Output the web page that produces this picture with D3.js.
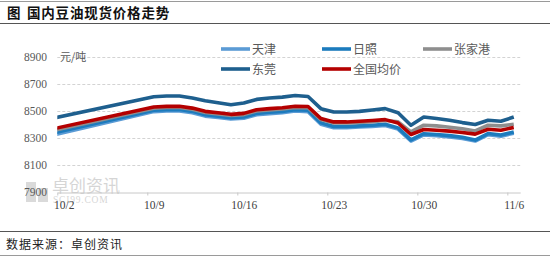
<!DOCTYPE html>
<html>
<head>
<meta charset="utf-8">
<script src="https://cdn.jsdelivr.net/npm/d3@7"></script>
<style>
body { margin: 0; background: #fff; }
svg { display: block; font-family: "Noto Sans CJK SC", sans-serif; }
.num { font-family: "Liberation Serif", serif; }
</style>
</head>
<body>
<div class="container"></div>
<script>
var width = 550;
var height = 259;

// 9/28 is the last quote before the holiday; the line is clipped at the 10/2 edge
var days = ['9/28','10/9','10/10','10/11','10/12','10/13','10/14','10/15','10/16','10/17',
  '10/18','10/19','10/20','10/21','10/22','10/23','10/24','10/25','10/26','10/27',
  '10/28','10/29','10/30','10/31','11/1','11/2','11/3','11/4','11/5','11/6'];

var tianjin = [8252,8495,8500,8500,8487,8462,8452,8440,8446,8472,8480,8487,8499,8495,8402,
  8376,8376,8381,8386,8393,8366,8278,8323,8317,8309,8297,8278,8325,8314,8336];
var rizhao = [8268,8505,8510,8510,8497,8472,8462,8450,8456,8482,8490,8497,8509,8505,8412,
  8385,8385,8390,8395,8402,8375,8287,8332,8326,8318,8306,8285,8333,8322,8345];
var zhangjiagang = [8290,8520,8525,8525,8512,8488,8478,8466,8473,8500,8508,8515,8525,8524,8436,
  8411,8411,8416,8421,8430,8420,8345,8395,8390,8380,8368,8352,8395,8390,8402];
var dongguan = [8382,8605,8610,8610,8595,8575,8561,8546,8558,8585,8595,8602,8614,8607,8517,
  8492,8492,8497,8507,8517,8487,8395,8455,8444,8431,8414,8400,8431,8424,8455];
var national = [8303,8529,8534,8534,8521,8497,8487,8475,8482,8509,8517,8524,8534,8533,8444,
  8419,8419,8424,8429,8436,8411,8326,8363,8358,8351,8341,8329,8365,8358,8378];

var seriesNames = ['天津','日照','张家港','东莞','全国均价'];
var seriesColors = ['#5b9bd5','#1c7bbd','#8e8e8e','#1e5f8e','#b40000'];
var seriesValues = [tianjin, rizhao, zhangjiagang, dongguan, national];

var yTicks = [7900, 8100, 8300, 8500, 8700, 8900];
var xTickDays = ['10/2','10/9','10/16','10/23','10/30','11/6'];

var toDate = function(s, hour) {
  var p = s.split('/');
  return new Date(2023, +p[0] - 1, +p[1], hour || 0);
};

var plot = {left: 57.3, right: 520.2, top: 56.7, bottom: 192.3};

var svg = d3.select('.container').append('svg')
  .attr('width', width)
  .attr('height', height);

// title band
svg.append('line').attr('x1', 0).attr('x2', width).attr('y1', 1.5).attr('y2', 1.5)
  .attr('stroke', '#9a9a9a').attr('stroke-width', 1);
svg.append('line').attr('x1', 0).attr('x2', width).attr('y1', 23.5).attr('y2', 23.5)
  .attr('stroke', '#555').attr('stroke-width', 1);
svg.append('text').attr('x', 7).attr('y', 18)
  .attr('font-size', 13.5).attr('font-weight', 'bold').attr('fill', '#111')
  .text('图');
svg.append('text').attr('x', 27).attr('y', 18)
  .attr('font-size', 13.5).attr('font-weight', 'bold').attr('fill', '#111')
  .attr('letter-spacing', 0.8)
  .text('国内豆油现货价格走势');

// footer
svg.append('line').attr('x1', 0).attr('x2', width).attr('y1', 231.5).attr('y2', 231.5)
  .attr('stroke', '#555').attr('stroke-width', 1);
svg.append('line').attr('x1', 0).attr('x2', width).attr('y1', 255.5).attr('y2', 255.5)
  .attr('stroke', '#9a9a9a').attr('stroke-width', 1);
svg.append('text').attr('x', 6).attr('y', 248.5)
  .attr('font-size', 12).attr('fill', '#222').attr('letter-spacing', 1)
  .text('数据来源：卓创资讯');

var x = d3.scaleTime()
  .domain([toDate('10/2'), toDate('11/7')])
  .range([plot.left, plot.right]);
var y = d3.scaleLinear()
  .domain([7900, 8900])
  .range([plot.bottom, plot.top]);

// watermark
var wm = svg.append('g').attr('opacity', 0.3);
wm.append('rect').attr('x', 26).attr('y', 182).attr('width', 10).attr('height', 20).attr('fill', '#888');
wm.append('rect').attr('x', 38).attr('y', 188).attr('width', 10).attr('height', 14).attr('fill', '#888');
wm.append('text').attr('x', 52).attr('y', 192).attr('font-size', 17).attr('fill', '#777').text('卓创资讯');
wm.append('text').attr('x', 53).attr('y', 203).attr('font-size', 9.5).attr('fill', '#777')
  .attr('class', 'num').attr('letter-spacing', 0.8).text('SCI99.COM');

// gridlines
svg.append('g').selectAll('line')
  .data(yTicks.slice(1))
  .enter().append('line')
  .attr('x1', plot.left).attr('x2', plot.right)
  .attr('y1', function(d) { return Math.round(y(d)) + 0.5; })
  .attr('y2', function(d) { return Math.round(y(d)) + 0.5; })
  .attr('stroke', '#d3d3d3').attr('stroke-dasharray', '3,2');

// y axis labels
var yAxis = d3.axisLeft(y).tickValues(yTicks).tickFormat(d3.format('d')).tickSize(0).tickPadding(0);
var yg = svg.append('g').attr('transform', 'translate(47,0)').call(yAxis);
yg.select('.domain').remove();
yg.selectAll('text').attr('font-size', 11.5).attr('fill', '#595959')
  .attr('font-family', '"Liberation Serif", serif');

svg.append('text').attr('x', 60).attr('y', 60.5)
  .attr('font-size', 11).attr('fill', '#595959').text('元/吨');

// x axis
var xAxis = d3.axisBottom(x)
  .tickValues(xTickDays.map(function(d) { return toDate(d); }))
  .tickFormat(function(d) { return (d.getMonth() + 1) + '/' + d.getDate(); })
  .tickSize(3).tickSizeOuter(0).tickPadding(5);
var xg = svg.append('g').attr('transform', 'translate(0,' + (Math.round(plot.bottom) + 0.5) + ')').call(xAxis);
xg.select('.domain').attr('stroke', '#c8c8c8');
xg.selectAll('.tick line').attr('stroke', '#c8c8c8');
xg.selectAll('.tick text')
  .attr('font-family', '"Liberation Serif", serif')
  .attr('font-size', 11.5).attr('fill', '#404040')
  .attr('dx', 6.4);

// lines
svg.append('clipPath').attr('id', 'plotclip')
  .append('rect')
  .attr('x', plot.left).attr('y', 0)
  .attr('width', plot.right - plot.left).attr('height', height);

var line = d3.line()
  .x(function(d) { return x(toDate(d.day, 12)); })
  .y(function(d) { return y(d.v); });

var lineGroup = svg.append('g').attr('clip-path', 'url(#plotclip)');
seriesValues.forEach(function(vals, i) {
  var pts = days.map(function(d, j) { return {day: d, v: vals[j]}; });
  lineGroup.append('path')
    .datum(pts)
    .attr('d', line)
    .attr('fill', 'none')
    .attr('stroke', seriesColors[i])
    .attr('stroke-width', 3.6)
    .attr('stroke-linejoin', 'round');
});

// legend
var legendPos = [[221, 49], [322, 49], [423, 49], [221, 69], [322, 69]];
var legend = svg.append('g').selectAll('g')
  .data(seriesNames)
  .enter().append('g')
  .attr('transform', function(d, i) { return 'translate(' + legendPos[i][0] + ',' + legendPos[i][1] + ')'; });
legend.append('line')
  .attr('x1', 0).attr('x2', 29).attr('y1', 0).attr('y2', 0)
  .attr('stroke', function(d, i) { return seriesColors[i]; })
  .attr('stroke-width', 3.6);
legend.append('text')
  .attr('x', 31).attr('y', 4.5)
  .attr('font-size', 12).attr('fill', '#595959')
  .text(function(d) { return d; });
</script>
</body>
</html>
